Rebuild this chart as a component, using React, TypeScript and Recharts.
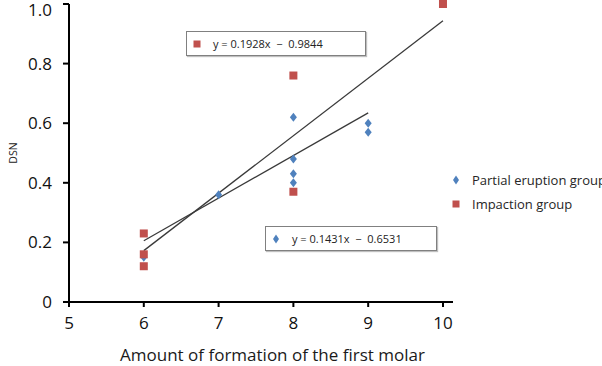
import { ScatterChart, Scatter, XAxis, YAxis, ReferenceLine, Legend } from "recharts";

const BLUE = "#4F81BD";
const RED = "#C0504D";

const seriesNames = ["Partial eruption group", "Impaction group"];

const xTicks = [5, 6, 7, 8, 9, 10];
const yTicks = [0, 0.2, 0.4, 0.6, 0.8, 1.0];

const partialX = [6, 7, 8, 8, 8, 8, 9, 9];
const partialY = [0.15, 0.36, 0.62, 0.48, 0.43, 0.4, 0.6, 0.57];

const impactionX = [6, 6, 6, 8, 8, 10];
const impactionY = [0.23, 0.16, 0.12, 0.76, 0.37, 1.0];

// linear fits as [slope, intercept] and the x span each one covers
const partialFit = [0.1431, -0.6531];
const impactionFit = [0.1928, -0.9844];
const partialSpan = [6, 9];
const impactionSpan = [6, 10];

const partialData = partialX.map((x, i) => ({ x, y: partialY[i] }));
const impactionData = impactionX.map((x, i) => ({ x, y: impactionY[i] }));

const fitSegment = (fit: number[], span: number[]) =>
  span.map((x) => ({ x, y: fit[0] * x + fit[1] }));

const fmtFit = (fit: number[]) =>
  `y = ${fit[0].toFixed(4)}x  \u2212  ${Math.abs(fit[1]).toFixed(4)}`;

const Diamond = (p: any) => (
  <polygon
    points={`${p.cx},${p.cy - 4.5} ${p.cx + 3.5},${p.cy} ${p.cx},${p.cy + 4.5} ${p.cx - 3.5},${p.cy}`}
    fill={BLUE}
  />
);

const Square = (p: any) => (
  <rect x={p.cx - 4} y={p.cy - 4} width={8} height={8} fill={RED} />
);

const marker = (type: string, color: string) =>
  type === "diamond" ? (
    <polygon points="6,1.5 9,6 6,10.5 3,6" fill={color} />
  ) : (
    <rect x={2.5} y={2.5} width={7} height={7} fill={color} />
  );

// keep the legend in series order rather than alphabetical
const renderLegend = (props: any) => {
  const items = [...(props.payload || [])].sort(
    (a: any, b: any) => seriesNames.indexOf(a.value) - seriesNames.indexOf(b.value)
  );
  return (
    <div style={{ fontSize: 13, color: "#262626" }}>
      {items.map((entry: any) => (
        <div
          key={entry.value}
          style={{ display: "flex", alignItems: "center", height: 24, whiteSpace: "nowrap" }}
        >
          <svg width={12} height={12}>
            {marker(entry.type, entry.color)}
          </svg>
          <span style={{ marginLeft: 10 }}>{entry.value}</span>
        </div>
      ))}
    </div>
  );
};

const XTitle = (props: any) => {
  const vb = props.viewBox || { x: 69, y: 302, width: 384, height: 64 };
  return (
    <text
      x={vb.x + vb.width / 2 + 11.5}
      y={vb.y + vb.height - 5}
      textAnchor="middle"
      fontSize={17}
      fill="#1a1a1a"
    >
      Amount of formation of the first molar
    </text>
  );
};

const YTitle = (props: any) => {
  const vb = props.viewBox || { x: 0, y: 4, width: 69, height: 298 };
  const x = vb.x + 13;
  const y = vb.y + vb.height / 2;
  return (
    <text
      x={x}
      y={y}
      transform={`rotate(-90 ${x} ${y})`}
      textAnchor="middle"
      dominantBaseline="central"
      fontSize={10.5}
      fill="#222"
    >
      DSN
    </text>
  );
};

const FitBox = ({ left, top, width, fit, type, color }: any) => (
  <div
    style={{
      position: "absolute",
      left,
      top,
      width,
      height: 25,
      boxSizing: "border-box",
      border: "1px solid #808080",
      boxShadow: "1px 1px 1px rgba(0,0,0,0.25)",
      background: "#fff",
      display: "flex",
      alignItems: "center",
      fontSize: 11,
      color: "#222",
      whiteSpace: "pre",
    }}
  >
    <svg width={12} height={12} style={{ marginLeft: 4 }}>
      {marker(type, color)}
    </svg>
    <span style={{ marginLeft: 10 }}>{fmtFit(fit)}</span>
  </div>
);

const tickStyle = { fontSize: 17, fill: "#111" };
const axisStroke = { stroke: "#000", strokeWidth: 2 };

export default function App() {
  return (
    <div
      style={{
        position: "absolute",
        left: 0,
        top: 0,
        width: 602,
        height: 366,
        overflow: "hidden",
        background: "#fff",
        fontFamily: "'Open Sans', sans-serif",
      }}
    >
      <ScatterChart
        width={602}
        height={366}
        margin={{ top: 4, right: 149, bottom: 0, left: 0 }}
        style={{ fontFamily: "'Open Sans', sans-serif" }}
      >
        <XAxis
          type="number"
          dataKey="x"
          domain={[5, 10.134]}
          ticks={xTicks}
          height={64}
          tick={tickStyle}
          tickSize={5}
          tickMargin={10}
          axisLine={axisStroke}
          tickLine={axisStroke}
          label={<XTitle />}
        />
        <YAxis
          type="number"
          dataKey="y"
          domain={[0, 1]}
          ticks={yTicks}
          width={69}
          tick={tickStyle}
          tickSize={6}
          tickMargin={11}
          tickFormatter={(v: number) => (v === 0 ? "0" : v.toFixed(1))}
          axisLine={axisStroke}
          tickLine={axisStroke}
          label={<YTitle />}
        />
        <Scatter
          name={seriesNames[0]}
          data={partialData}
          fill={BLUE}
          legendType="diamond"
          shape={Diamond}
          isAnimationActive={false}
        />
        <Scatter
          name={seriesNames[1]}
          data={impactionData}
          fill={RED}
          legendType="square"
          shape={Square}
          isAnimationActive={false}
        />
        <ReferenceLine
          segment={fitSegment(impactionFit, impactionSpan)}
          stroke="#3a3a3a"
          strokeWidth={1.3}
          ifOverflow="visible"
        />
        <ReferenceLine
          segment={fitSegment(partialFit, partialSpan)}
          stroke="#3a3a3a"
          strokeWidth={1.3}
          ifOverflow="visible"
        />
        <Legend
          layout="vertical"
          align="center"
          verticalAlign="middle"
          wrapperStyle={{ left: 450, top: 168, width: 160 }}
          content={renderLegend}
        />
      </ScatterChart>
      <FitBox left={186} top={31} width={180} fit={impactionFit} type="square" color={RED} />
      <FitBox left={265} top={226} width={172} fit={partialFit} type="diamond" color={BLUE} />
    </div>
  );
}
